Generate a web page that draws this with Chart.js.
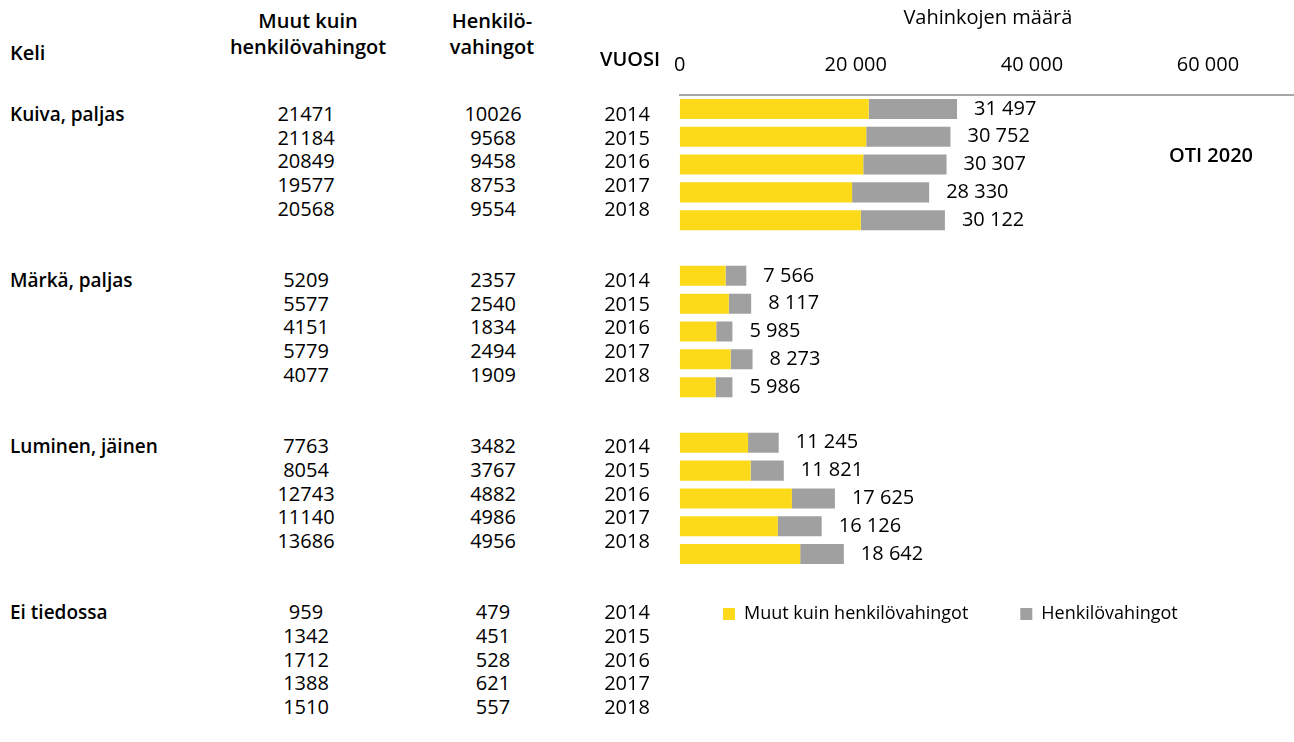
<!DOCTYPE html>
<html>
<head>
<meta charset="utf-8">
<script src="https://cdn.jsdelivr.net/npm/chart.js@4.4.1/dist/chart.umd.min.js"></script>
<style>
html, body { margin:0; padding:0; background:#fff; overflow:hidden; width:1294px; height:742px; }
#wrap { position:relative; width:1294px; height:742px; font-family:"Open Sans", "Noto Sans", sans-serif; color:#000; }
.t { position:absolute; white-space:nowrap; line-height:24px; font-size:20px; }
.c { transform:translateX(-50%); }
.b { font-weight:600; }
.g { font-size:19px; }
#cv { position:absolute; left:656px; top:0px; }
</style>
</head>
<body>
<div id="wrap">
  <canvas id="cv" width="650" height="648"></canvas>
</div>
<script>
// ---- data ----
const groups = ['Kuiva, paljas', 'Märkä, paljas', 'Luminen, jäinen', 'Ei tiedossa'];
const years = ['2014', '2015', '2016', '2017', '2018'];
const muutKuiva   = [21471, 21184, 20849, 19577, 20568];
const henkKuiva   = [10026, 9568, 9458, 8753, 9554];
const muutMarka   = [5209, 5577, 4151, 5779, 4077];
const henkMarka   = [2357, 2540, 1834, 2494, 1909];
const muutLuminen = [7763, 8054, 12743, 11140, 13686];
const henkLuminen = [3482, 3767, 4882, 4986, 4956];
const muutEi      = [959, 1342, 1712, 1388, 1510];
const henkEi      = [479, 451, 528, 621, 557];
const xTicks = [0, 20000, 40000, 60000];
const seriesNames = ['Muut kuin henkilövahingot', 'Henkilövahingot'];
const colYellow = '#FCDA1A';
const colGray = '#A0A0A0';

// ---- table (left side) ----
const wrap = document.getElementById('wrap');
function addText(txt, x, y, cls) {
  const d = document.createElement('div');
  d.className = 't ' + (cls || '');
  d.textContent = txt;
  d.style.left = x + 'px';
  d.style.top = (y - 12) + 'px';
  wrap.appendChild(d);
}
addText('Keli', 10, 53, 'b');
addText('Muut kuin', 308, 21, 'b c');
addText('henkilövahingot', 308, 47, 'b c');
addText('Henkilö-', 492, 21, 'b c');
addText('vahingot', 492, 47, 'b c');
addText('VUOSI', 630, 59, 'b c');
addText('OTI 2020', 1211, 155, 'b c');

const tableMuut = [muutKuiva, muutMarka, muutLuminen, muutEi];
const tableHenk = [henkKuiva, henkMarka, henkLuminen, henkEi];
for (let g = 0; g < groups.length; g++) {
  const base = g * 7;
  addText(groups[g], 10, 114 + base * 23.72, 'b g');
  for (let j = 0; j < years.length; j++) {
    const y = 114 + (base + j) * 23.72;
    addText(String(tableMuut[g][j]), 306, y, 'c');
    addText(String(tableHenk[g][j]), 493, y, 'c');
    addText(years[j], 627, y, 'c');
  }
}

// ---- chart ----
const labels = [];
const dMuut = [];
const dHenk = [];
for (let g = 0; g < 3; g++) {
  if (g > 0) { labels.push(''); dMuut.push(null); dHenk.push(null); }
  for (let j = 0; j < years.length; j++) {
    labels.push(groups[g] + ' ' + years[j]);
    dMuut.push(tableMuut[g][j]);
    dHenk.push(tableHenk[g][j]);
  }
}
const fmt = v => String(v).replace(/\B(?=(\d{3})+(?!\d))/g, ' ');

const totalLabels = {
  id: 'totalLabels',
  afterDatasetsDraw(chart) {
    const ctx = chart.ctx;
    const meta = chart.getDatasetMeta(1);
    ctx.save();
    ctx.font = '20px "Open Sans", "Noto Sans", sans-serif';
    ctx.fillStyle = '#000';
    ctx.textAlign = 'left';
    ctx.textBaseline = 'middle';
    meta.data.forEach((el, i) => {
      const a = chart.data.datasets[0].data[i];
      const b = chart.data.datasets[1].data[i];
      if (a == null || b == null) return;
      ctx.fillText(fmt(a + b), el.x + 17, el.y);
    });
    ctx.restore();
  }
};

// places the legend row closer under the bars, with wide item spacing
const legendPlace = {
  id: 'legendPlace',
  afterLayout(chart) {
    const lg = chart.legend;
    if (!lg) return;
    const p = lg.options.labels.padding;
    const dx = (67 - p) - lg.left;
    const dy = (chart.chartArea.bottom + 46 - p - 9) - lg.top;
    lg.left += dx; lg.right += dx;
    lg.top += dy; lg.bottom += dy;
  }
};

new Chart(document.getElementById('cv'), {
  type: 'bar',
  data: {
    labels: labels,
    datasets: [
      { label: seriesNames[0], data: dMuut, backgroundColor: colYellow, borderWidth: 0 },
      { label: seriesNames[1], data: dHenk, backgroundColor: colGray, borderWidth: 0 }
    ]
  },
  options: {
    indexAxis: 'y',
    responsive: false,
    animation: false,
    devicePixelRatio: 1,
    layout: { padding: { left: 15, right: 10, top: 0, bottom: 0 } },
    datasets: { bar: { barPercentage: 0.72, categoryPercentage: 1.0 } },
    scales: {
      x: {
        position: 'top',
        stacked: true,
        min: 0,
        max: 70000,
        afterBuildTicks: s => { s.ticks = xTicks.map(v => ({ value: v })); },
        grid: { display: false, drawTicks: false },
        border: { display: true, color: '#A6A6A6', width: 2 },
        ticks: {
          padding: 18,
          color: '#000',
          font: { family: '"Open Sans", "Noto Sans", sans-serif', size: 20 },
          callback: v => fmt(v)
        },
        title: {
          display: true,
          text: 'Vahinkojen määrä',
          color: '#000',
          font: { family: '"Open Sans", "Noto Sans", sans-serif', size: 20 },
          padding: { top: 6, bottom: 5 }
        }
      },
      y: {
        stacked: true,
        display: false
      }
    },
    plugins: {
      legend: {
        position: 'bottom',
        align: 'start',
        labels: {
          boxWidth: 12,
          boxHeight: 12,
          padding: 52,
          color: '#000',
          font: { family: '"Open Sans", "Noto Sans", sans-serif', size: 18 }
        }
      },
      tooltip: { enabled: false }
    }
  },
  plugins: [totalLabels, legendPlace]
});
</script>
</body>
</html>
